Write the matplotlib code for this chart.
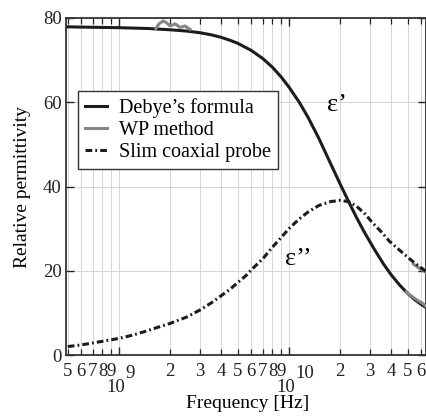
import numpy as np
import matplotlib
matplotlib.use("Agg")
import matplotlib.pyplot as plt
from matplotlib.ticker import LogLocator, FuncFormatter, NullFormatter

plt.rcParams['font.family'] = 'serif'
plt.rcParams['font.serif'] = ['Liberation Serif', 'DejaVu Serif']

# Debye's formula, real part
f_debye = [5e8, 7e8, 1e9, 1.5e9, 2e9, 2.5e9, 3e9, 3.5e9, 4e9, 4.5e9, 5e9, 6e9, 7e9, 8e9, 9e9,
           1e10, 1.15e10, 1.3e10, 1.5e10, 1.75e10, 2e10, 2.25e10, 2.5e10, 2.8e10, 3.2e10,
           3.6e10, 4e10, 4.5e10, 5e10, 5.5e10, 6e10, 6.5e10]
eps1_debye = [77.9, 77.8, 77.7, 77.5, 77.2, 76.9, 76.5, 76.0, 75.4, 74.7, 74.0, 72.3, 70.4, 68.3, 66.0,
              63.6, 60.0, 56.3, 51.4, 45.6, 40.6, 36.3, 32.6, 28.9, 24.9,
              21.6, 19.0, 16.5, 14.6, 13.1, 12.0, 11.1]

# slim coaxial probe, imaginary part
f_probe = [5e8, 6e8, 7e8, 8e8, 9e8, 1e9, 1.2e9, 1.4e9, 1.7e9, 2e9, 2.5e9, 3e9, 3.5e9, 4e9, 4.5e9,
           5e9, 5.6e9, 6e9, 7e9, 8e9, 9e9, 1e10, 1.15e10, 1.3e10, 1.5e10, 1.75e10, 2e10,
           2.25e10, 2.5e10, 2.8e10, 3.1e10, 3.5e10, 3.9e10, 4.5e10, 5e10, 5.5e10, 6e10, 6.5e10]
eps2_probe = [2.0, 2.4, 2.85, 3.25, 3.6, 3.95, 4.7, 5.5, 6.6, 7.5, 9.0, 10.7, 12.4, 14.1, 15.6,
              17.2, 18.9, 20.2, 22.8, 25.6, 27.9, 30.0, 32.3, 34.0, 35.5, 36.4, 36.7,
              36.4, 35.3, 33.5, 31.4, 29.2, 27.0, 24.8, 23.2, 21.8, 20.7, 19.6]

# WP method segments
f_wp_low = [1.65e9, 1.72e9, 1.82e9, 1.9e9, 1.99e9, 2.06e9, 2.13e9, 2.2e9, 2.28e9, 2.36e9, 2.44e9, 2.53e9, 2.62e9]
eps1_wp_low = [77.5, 78.6, 79.3, 78.9, 78.2, 78.3, 78.6, 78.3, 77.8, 77.9, 78.1, 77.7, 77.3]
f_wp_high = [4.9e10, 5.2e10, 5.5e10, 5.8e10, 6.1e10, 6.5e10]
eps1_wp_high = [15.0, 14.1, 13.4, 12.8, 12.3, 11.3]
f_wp_high2 = [5.4e10, 5.7e10, 6.0e10, 6.3e10, 6.5e10]
eps2_wp_high = [21.6, 20.9, 20.3, 19.8, 19.5]

decades = [9, 10]

dark = '#1c1c1c'
gray = '#858585'

fig = plt.figure(figsize=(4.27, 4.17), dpi=100)
ax = fig.add_axes([66 / 427, 1 - 355 / 417, 360 / 427, 337 / 417])

ax.plot(f_debye, eps1_debye, color=dark, lw=2.2, label="Debye\u2019s formula", zorder=3)
ax.plot(f_wp_low, eps1_wp_low, color=gray, lw=2.2, label='WP method', zorder=4)
ax.plot(f_wp_high, eps1_wp_high, color=gray, lw=2.2, zorder=4)
ax.plot(f_wp_high2, eps2_wp_high, color=gray, lw=2.2, zorder=4)
ax.plot(f_probe, eps2_probe, color=dark, lw=2.2, dashes=(2.2, 1.0, 0.6, 1.0),
        label='Slim coaxial probe', zorder=5)

ax.set_xscale('log')
ax.set_xlim(4.88e8, 6.4e10)
ax.set_ylim(0, 80)
ax.set_yticks([0, 20, 40, 60, 80])

ax.xaxis.set_major_locator(LogLocator(base=10, subs=[1.0]))
ax.xaxis.set_minor_locator(LogLocator(base=10, subs=np.arange(2, 10)))
ax.xaxis.set_major_formatter(NullFormatter())
ax.xaxis.set_minor_formatter(FuncFormatter(lambda v, p: str(int(round(v / 10 ** np.floor(np.log10(v) + 1e-9))))))

ax.tick_params(which='both', direction='in', top=True, right=True, labelsize=13.5, colors='#222222')
ax.tick_params(which='major', length=6, width=1, pad=3)
ax.tick_params(which='minor', length=4, width=0.9, pad=5.8)

# decade labels: "10" below the digits, exponent raised to the digit row
for d in decades:
    ax.annotate('10', xy=(10.0 ** d, 0), xycoords=('data', 'axes fraction'),
                xytext=(4.5, -17.5), textcoords='offset points', ha='right', va='top',
                fontsize=13.5, color='#222222')
    ax.annotate(str(d), xy=(10.0 ** d, 0), xycoords=('data', 'axes fraction'),
                xytext=(4.8, -7.3), textcoords='offset points', ha='left', va='top',
                fontsize=13.5, color='#222222')

ax.grid(True, which='both', axis='x', color='#d6d6d6', lw=0.7)
ax.grid(True, which='major', axis='y', color='#d6d6d6', lw=0.7)
for s in ax.spines.values():
    s.set_linewidth(1.3)
    s.set_color('#333333')

ax.set_xlabel('Frequency [Hz]', fontsize=14)
ax.xaxis.set_label_coords(0.504, -0.12)
ax.set_ylabel('Relative permittivity', fontsize=14, labelpad=9)

ax.text(1.673e10, 57.9, "\u03b5\u2019", fontsize=19, ha='left', va='baseline')
ax.text(9.47e9, 21.4, "\u03b5\u2019\u2019", fontsize=19, ha='left', va='baseline')

leg = ax.legend(loc='upper left', bbox_to_anchor=(0.033, 0.783), borderaxespad=0,
                fontsize=14.5, handlelength=1.1, handletextpad=0.6, labelspacing=0.15,
                fancybox=False, framealpha=1, edgecolor='#333333', borderpad=0.35)
leg.get_frame().set_linewidth(1.0)

fig.savefig('out.png', dpi=100)
